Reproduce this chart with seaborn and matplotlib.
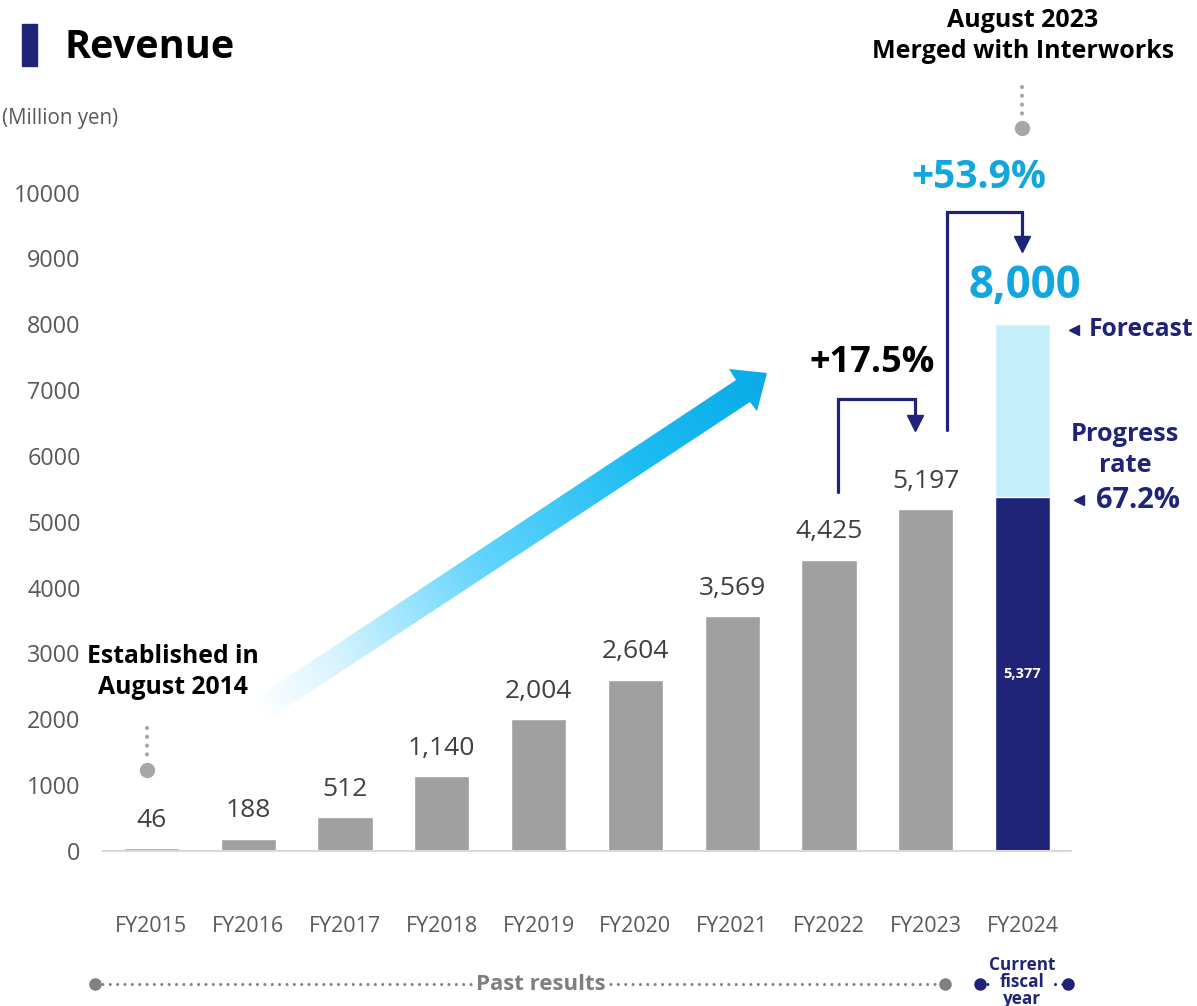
import numpy as np
import pandas as pd
import matplotlib.pyplot as plt
import seaborn as sns
from matplotlib.patches import Polygon, Rectangle
from matplotlib.colors import LinearSegmentedColormap

# ================================================================
years = ["FY2015", "FY2016", "FY2017", "FY2018", "FY2019",
         "FY2020", "FY2021", "FY2022", "FY2023", "FY2024"]
revenue = [46, 188, 512, 1140, 2004, 2604, 3569, 4425, 5197, 5377]
forecast_year = "FY2024"
forecast_value = 8000
y_ticks = list(range(0, 10001, 1000))
growth_labels = ["+17.5%", "+53.9%"]
progress_rate = "67.2%"

NAVY = "#1f2478"
GRAY = "#a0a0a0"
LIGHT = "#c6effc"
CYAN = "#12a6de"
TXT_GRAY = "#595959"
# ================================================================

sns.set_theme(style="white")
plt.rcParams["font.family"] = ["Open Sans", "DejaVu Sans"]

fig = plt.figure(figsize=(11.97, 10.06), dpi=100)
ax = fig.add_axes([0.0860, 0.1541, 0.8087, 0.7853])

df = pd.DataFrame({"year": years, "revenue": revenue})
df_fc = pd.DataFrame({"year": [forecast_year], "revenue": [forecast_value]})
palette = {y: (NAVY if y == forecast_year else GRAY) for y in years}

sns.barplot(ax=ax, data=df_fc, x="year", y="revenue", order=years,
            color=LIGHT, width=0.57, saturation=1)
sns.barplot(ax=ax, data=df, x="year", y="revenue", hue="year", order=years,
            palette=palette, width=0.57, saturation=1, legend=False)

# Value labels.
for i, v in enumerate(revenue):
    if years[i] == forecast_year:
        ax.text(i, v / 2, f"{v:,}", ha="center", va="center", color="white",
                fontsize=10.5, fontweight="bold")
    else:
        ax.annotate(f"{v:,}", (i, v), xytext=(0, 20), textcoords="offset points",
                    ha="center", va="center", fontsize=19, color="#404040")

# Axes styling.
ax.set_xlim(-0.5, len(years) - 0.5)
ax.set_ylim(0, 12000)
ax.set_yticks(y_ticks)
ax.set_yticklabels([str(t) for t in y_ticks])
ax.set_xlabel("")
ax.set_ylabel("")
for s in ["left", "top", "right"]:
    ax.spines[s].set_visible(False)
ax.spines["bottom"].set_color("#d9d9d9")
ax.spines["bottom"].set_linewidth(1.5)
ax.set_xticks(np.arange(-0.5, len(years)), minor=True)
ax.tick_params(axis="x", which="major", length=0, pad=47, labelsize=15.5, labelcolor=TXT_GRAY)
ax.tick_params(axis="x", which="minor", length=7, width=1.5, color="#d9d9d9", direction="out")
ax.tick_params(axis="y", length=0, pad=16, labelsize=16.8, labelcolor=TXT_GRAY)
ax.patch.set_alpha(0)

# Overlay in pixel coordinates for decorations.
ov = fig.add_axes([0, 0, 1, 1], zorder=5)
ov.set_xlim(0, 1197)
ov.set_ylim(1006, 0)
ov.axis("off")
ov.patch.set_alpha(0)

# Gradient arrow.
pts = [(253, 700), (736, 380), (729, 369), (767, 373), (757, 411), (750, 402), (263, 723)]
poly = Polygon(pts, closed=True, facecolor="none", edgecolor="none")
ov.add_patch(poly)
cmap = LinearSegmentedColormap.from_list(
    "arr", [(0, "#ffffff"), (0.15, "#d8f4ff"), (0.45, "#5fd3fd"), (0.75, "#1dbcf2"), (1, "#08abe8")])
xs = np.linspace(250, 770, 260)
ys = np.linspace(365, 725, 180)
X, Y = np.meshgrid(xs, ys)
ux, uy = 767 - 258, 373 - 711
L = np.hypot(ux, uy)
t = np.clip(((X - 258) * ux + (Y - 711) * uy) / L ** 2, 0, 1)
im = ov.imshow(cmap(t), extent=(250, 770, 725, 365), origin="upper", aspect="auto", zorder=1)
im.set_clip_path(poly)
ov.set_xlim(0, 1197)
ov.set_ylim(1006, 0)

# Growth brackets.
lw = 2.3
ov.plot([838, 838, 915, 915], [492, 399, 399, 418], color=NAVY, lw=lw, solid_joinstyle="miter")
ov.plot([915], [423], marker="v", color=NAVY, markersize=11, ls="none")
ov.plot([947, 947, 1022, 1022], [430, 212, 212, 238], color=NAVY, lw=lw, solid_joinstyle="miter")
ov.plot([1022], [244], marker="v", color=NAVY, markersize=11, ls="none")

ov.text(872, 363, growth_labels[0], ha="center", va="center", fontsize=26, fontweight="bold", color="black")
ov.text(979, 177, growth_labels[1], ha="center", va="center", fontsize=28, fontweight="bold", color=CYAN)
ov.text(1025, 287, f"{forecast_value:,}", ha="center", va="center", fontsize=31.5, fontweight="bold", color=CYAN)

# Forecast / progress annotations.
ov.plot([1074], [330], marker="<", color=NAVY, markersize=7, ls="none")
ov.text(1089, 330, "Forecast", ha="left", va="center", fontsize=17.7, fontweight="bold", color=NAVY)
ov.text(1125, 450, "Progress\nrate", ha="center", va="center", fontsize=18.3, fontweight="bold",
        color=NAVY, linespacing=1.3)
ov.plot([1079], [500], marker="<", color=NAVY, markersize=7, ls="none")
ov.text(1096, 500, progress_rate, ha="left", va="center", fontsize=21, fontweight="bold", color=NAVY)

# Title.
ov.add_patch(Rectangle((22, 24), 15, 42, color=NAVY))
ov.text(65, 47, "Revenue", ha="left", va="center", fontsize=28.5, fontweight="bold", color="black")
ov.text(2, 118, "(Million yen)", ha="left", va="center", fontsize=14.8, color=TXT_GRAY)

# Event markers.
ov.text(1023, 36, "August 2023\nMerged with Interworks", ha="center", va="center", fontsize=18,
        fontweight="bold", color="black", linespacing=1.3)
ov.plot([1022, 1022], [87, 118], color="#a6a6a6", lw=3, ls=(0, (0.01, 2.1)), dash_capstyle="round")
ov.plot([1022], [128], marker="o", color="#a6a6a6", markersize=10)

ov.text(173, 672, "Established in\nAugust 2014", ha="center", va="center", fontsize=17.8,
        fontweight="bold", color="black", linespacing=1.3, zorder=3)
ov.plot([147, 147], [728, 760], color="#a6a6a6", lw=3, ls=(0, (0.01, 2.1)), dash_capstyle="round")
ov.plot([147], [770], marker="o", color="#a6a6a6", markersize=10)

# Bottom period markers.
ov.plot([95, 945], [984, 984], color="#808080", lw=2.2, ls=(0, (0.01, 2.4)), dash_capstyle="round")
ov.plot([95, 945], [984, 984], marker="o", color="#808080", markersize=8, ls="none")
ov.text(541, 984, "Past results", ha="center", va="center", fontsize=16, fontweight="bold",
        color="#7f7f7f", bbox=dict(facecolor="white", edgecolor="none", pad=0.5))
ov.plot([980, 992], [984, 984], color=NAVY, lw=2.2, ls=(0, (0.01, 2.4)), dash_capstyle="round")
ov.plot([1055, 1068], [984, 984], color=NAVY, lw=2.2, ls=(0, (0.01, 2.4)), dash_capstyle="round")
ov.plot([980, 1068], [984, 984], marker="o", color=NAVY, markersize=8, ls="none")
ov.text(1022, 982, "Current\nfiscal\nyear", ha="center", va="center", fontsize=12.3,
        fontweight="bold", color=NAVY, linespacing=0.95)

fig.savefig("out.png", dpi=100)
